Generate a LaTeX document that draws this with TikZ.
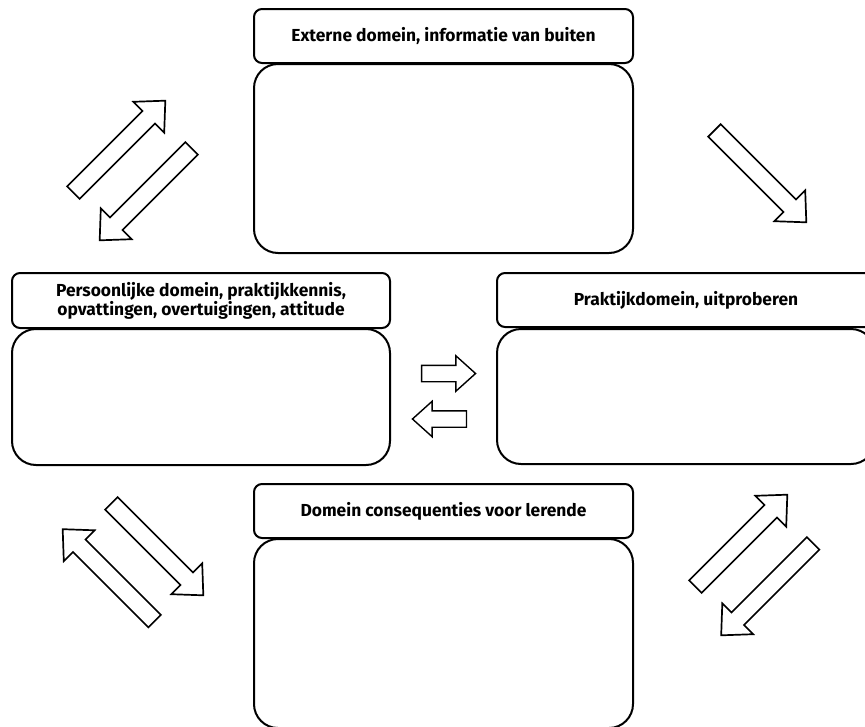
\documentclass[tikz,border=0pt]{standalone}
\usepackage{fontspec}
\setmainfont{Fira Sans}
\usetikzlibrary{shapes.arrows}
\begin{document}
\begin{tikzpicture}[x=1pt,y=-1pt,
  hdr/.style={draw, line width=2pt, rounded corners=8pt, fill=white, align=center,
    font=\bfseries\fontsize{17.4}{16.5}\selectfont, minimum width=379pt, minimum height=54pt, inner sep=0pt},
  bodybox/.style={draw, line width=2pt, rounded corners=24pt, fill=white, minimum width=379pt, inner sep=0pt},
  bigarr/.style={shape=single arrow, draw, line width=1.7pt, fill=white, minimum height=130pt,
    minimum width=0pt, inner xsep=0pt, inner ysep=8pt, single arrow head extend=13pt, single arrow tip angle=86},
  smallarr/.style={shape=single arrow, draw, line width=1.4pt, fill=white, minimum height=54pt,
    minimum width=0pt, inner xsep=0pt, inner ysep=7.5pt, single arrow head extend=9.5pt, single arrow tip angle=84}
]
\useasboundingbox (0,0) rectangle (865,726);
\clip (0,0) rectangle (865,726);
% top
\node[hdr] (toph) at (443.5,36) {Externe domein, informatie van buiten};
\node[bodybox, minimum height=189pt] (topb) at (443.5,158.5) {};
% left
\node[hdr, minimum width=378pt, minimum height=55pt] (lefth) at (201,300.5) {Persoonlijke domein, praktijkkennis,\\opvattingen, overtuigingen, attitude};
\node[bodybox, minimum width=378pt, minimum height=136pt] (leftb) at (201,397) {};
% right
\node[hdr, minimum width=378pt] (righth) at (686,300) {Praktijkdomein, uitproberen};
\node[bodybox, minimum width=378pt, minimum height=135pt] (rightb) at (686,396.5) {};
% bottom
\node[hdr] (both) at (443.5,511) {Domein consequenties voor lerende};
\node[bodybox, minimum height=189pt] (botb) at (443.5,633.5) {};
% arrows
\node[bigarr, rotate=45] (a1) at (116,150) {};
\node[bigarr, rotate=225] (a2) at (149,191) {};
\node[bigarr, rotate=-45] (a3) at (757,173) {};
\node[smallarr] (a4) at (444,373.5) {};
\node[smallarr, rotate=180] (a5) at (444,419) {};
\node[bigarr, rotate=-45] (a6) at (154,546) {};
\node[bigarr, rotate=135] (a7) at (112,578.5) {};
\node[bigarr, rotate=45] (a8) at (738,544) {};
\node[bigarr, rotate=225] (a9) at (770.5,586) {};
\end{tikzpicture}
\end{document}
